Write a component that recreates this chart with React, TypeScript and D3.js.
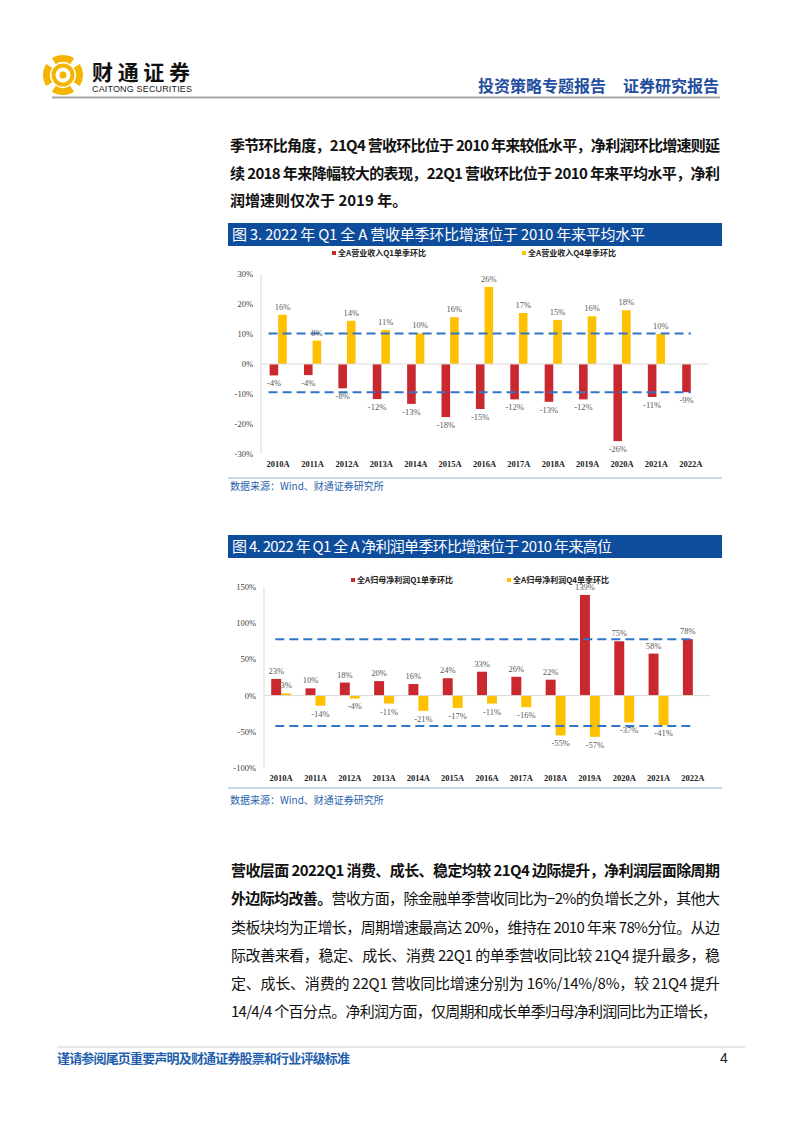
import React from "react";
import * as d3 from "d3";

const years = ["2010A","2011A","2012A","2013A","2014A","2015A","2016A","2017A","2018A","2019A","2020A","2021A","2022A"];

// Chart 3: revenue QoQ
const revQ1 = [-3.8,-3.7,-8.1,-11.7,-13.3,-17.7,-15.0,-11.8,-12.6,-11.8,-25.7,-11.0,-9.4];
const revQ1Labels = ["-4%","-4%","-8%","-12%","-13%","-18%","-15%","-12%","-13%","-12%","-26%","-11%","-9%"];
const revQ4 = [16.4,7.8,14.4,11.3,10.2,15.6,25.7,17.0,14.7,15.9,17.9,10.0];
const revQ4Labels = ["16%","8%","14%","11%","10%","16%","26%","17%","15%","16%","18%","10%"];
const revRef = [10.2,-9.4];
const revTicks = [30,20,10,0,-10,-20,-30];

// Chart 4: net profit QoQ
const npQ1 = [23,10,18,20,16,24,33,26,22,139,75,58,78];
const npQ1Labels = ["23%","10%","18%","20%","16%","24%","33%","26%","22%","139%","75%","58%","78%"];
const npQ4 = [3,-14,-4,-11,-21,-17,-11,-16,-55,-57,-37,-41];
const npQ4Labels = ["3%","-14%","-4%","-11%","-21%","-17%","-11%","-16%","-55%","-57%","-37%","-41%"];
const npRef = [78,-42];
const npTicks = [150,100,50,0,-50,-100];

const CJK = "'Noto Sans CJK SC', 'Noto Sans', sans-serif";
const SERIF = "'Liberation Serif', 'DejaVu Serif', serif";
const RED = "#C8282E";
const YEL = "#FFC000";
const DASH = "#2F75C8";
const NAVY = "#0E4C9C";

type ChartProps = {
  q1: number[]; q1L: string[]; q4: number[]; q4L: string[];
  refs: number[]; ticks: number[]; domain: [number, number];
  x0: number; x1: number; yTop: number; yBot: number; barFrac: number;
  legendY: number; legend1X: number; legend2X: number;
  legend1: string; legend2: string; xLabelY: number; refStartFrac: number;
};

function BarChart(p: ChartProps) {
  const x = d3.scaleBand<string>().domain(years).range([p.x0, p.x1]).paddingInner(0).paddingOuter(0);
  const y = d3.scaleLinear().domain(p.domain).range([p.yBot, p.yTop]);
  const bw = x.bandwidth() * p.barFrac;
  const c = (yr: string) => (x(yr) as number) + x.bandwidth() / 2;
  const refStart = (x(years[0]) as number) + x.bandwidth() * p.refStartFrac;
  const refEnd = c(years[years.length - 1]);
  return (
    <g>
      {/* legend */}
      <rect x={p.legend1X} y={p.legendY - 2} width={4} height={4} fill={RED} />
      <text x={p.legend1X + 6} y={p.legendY + 3} fontSize={8} fontWeight="bold" fontFamily={CJK} fill="#222">{p.legend1}</text>
      <rect x={p.legend2X} y={p.legendY - 2} width={4} height={4} fill={YEL} />
      <text x={p.legend2X + 6} y={p.legendY + 3} fontSize={8} fontWeight="bold" fontFamily={CJK} fill="#222">{p.legend2}</text>
      {/* y axis */}
      <line x1={p.x0} x2={p.x0} y1={y(p.domain[1])} y2={y(p.domain[0])} stroke="#D9D9D9" strokeWidth={1} />
      {p.ticks.map((t) => (
        <text key={t} x={p.x0 - 8} y={y(t) + 3} textAnchor="end" fontSize={8.5} fontFamily={SERIF} fill="#404040">{t + "%"}</text>
      ))}
      {/* bars */}
      {p.q1.map((v, i) => (
        <rect key={"a" + i} x={c(years[i]) - bw} y={Math.min(y(v), y(0))} width={bw} height={Math.abs(y(v) - y(0))} fill={RED} />
      ))}
      {p.q4.map((v, i) => (
        <rect key={"b" + i} x={c(years[i])} y={Math.min(y(v), y(0))} width={bw} height={Math.abs(y(v) - y(0))} fill={YEL} />
      ))}
      {/* zero line */}
      <line x1={p.x0} x2={p.x1} y1={y(0)} y2={y(0)} stroke="#D9D9D9" strokeWidth={1} />
      {/* reference lines */}
      {p.refs.map((r, i) => (
        <line key={"r" + i} x1={refStart} x2={refEnd} y1={y(r)} y2={y(r)} stroke={DASH} strokeWidth={2} strokeDasharray="9,5" />
      ))}
      {/* data labels */}
      {p.q1.map((v, i) => (
        <text key={"la" + i} x={c(years[i]) - bw / 2} y={v >= 0 ? y(v) - 5 : y(v) + 11} textAnchor="middle" fontSize={8.5} fontFamily={SERIF} fill="#595959">{p.q1L[i]}</text>
      ))}
      {p.q4.map((v, i) => (
        <text key={"lb" + i} x={c(years[i]) + bw / 2} y={v >= 0 ? y(v) - 5 : y(v) + 11} textAnchor="middle" fontSize={8.5} fontFamily={SERIF} fill="#595959">{p.q4L[i]}</text>
      ))}
      {/* x labels */}
      {years.map((yr) => (
        <text key={yr} x={c(yr)} y={p.xLabelY} textAnchor="middle" fontSize={8.5} fontWeight="bold" fontFamily={SERIF} fill="#222">{yr}</text>
      ))}
    </g>
  );
}

function Logo() {
  const cx = 63, cy = 75;
  const arcOuter = d3.arc<any>().innerRadius(13).outerRadius(20);
  const segs = [0, 1, 2, 3].map((k) => ({ startAngle: k * Math.PI / 2 + 0.2, endAngle: (k + 1) * Math.PI / 2 - 0.2 }));
  return (
    <g transform={`translate(${cx},${cy})`}>
      {segs.map((s, i) => (
        <path key={i} d={arcOuter(s) as string} fill="#F4B400" transform="rotate(45)" />
      ))}
      <circle r={9.5} fill="none" stroke="#F4B400" strokeWidth={4} />
      <circle r={3.5} fill="#F4B400" />
    </g>
  );
}

export default function App() {
  const p1 = [
    "季节环比角度，21Q4 营收环比位于 2010 年来较低水平，净利润环比增速则延",
    "续 2018 年来降幅较大的表现，22Q1 营收环比位于 2010 年来平均水平，净利",
    "润增速则仅次于 2019 年。",
  ];
  const p3 = [
    "类板块均为正增长，周期增速最高达 20%，维持在 2010 年来 78%分位。从边",
    "际改善来看，稳定、成长、消费 22Q1 的单季营收同比较 21Q4 提升最多，稳",
    "定、成长、消费的 22Q1 营收同比增速分别为 16%/14%/8%，较 21Q4 提升",
    "14/4/4  个百分点。净利润方面，仅周期和成长单季归母净利润同比为正增长，",
  ];
  return (
    <svg width={802} height={1133} style={{ position: "absolute", left: 0, top: 0, background: "#fff" }}>
      <rect width={802} height={1133} fill="#fff" />
      {/* header */}
      <Logo />
      <text x={92} y={80} fontSize={21} fontWeight="bold" fontFamily={CJK} fill="#111" textLength={98} lengthAdjust="spacing">财通证券</text>
      <text x={92} y={92} fontSize={9} fontFamily="'Liberation Sans', Arial, sans-serif" fill="#222" textLength={100} lengthAdjust="spacing">CAITONG SECURITIES</text>
      <text x={478} y={92} fontSize={16} fontWeight="bold" fontFamily={CJK} fill="#1F4E9C" textLength={128} lengthAdjust="spacing">投资策略专题报告</text>
      <text x={623} y={92} fontSize={16} fontWeight="bold" fontFamily={CJK} fill="#1F4E9C" textLength={96} lengthAdjust="spacing">证券研究报告</text>
      <line x1={52} x2={720} y1={97.5} y2={97.5} stroke="#A6A6A6" strokeWidth={2} />

      {/* paragraph 1 */}
      {p1.map((t, i) => (
        <text key={i} x={230} y={151 + i * 27.5} fontSize={15} fontWeight="bold" fontFamily={CJK} fill="#111"
          {...(i < 2 ? { textLength: 490, lengthAdjust: "spacing" } : {})}>{t}</text>
      ))}

      {/* chart 3 */}
      <rect x={228} y={223} width={494} height={23} fill={NAVY} />
      <text x={232} y={240} fontSize={15} fontFamily={CJK} fill="#fff" textLength={413} lengthAdjust="spacing">图 3. 2022 年 Q1 全 A 营收单季环比增速位于 2010 年来平均水平</text>
      <BarChart q1={revQ1} q1L={revQ1Labels} q4={revQ4} q4L={revQ4Labels} refs={revRef} ticks={revTicks}
        domain={[-30, 30]} x0={261} x1={708} yTop={274} yBot={454} barFrac={0.25}
        legendY={253} legend1X={332} legend2X={522} legend1="全A营业收入Q1单季环比" legend2="全A营业收入Q4单季环比"
        xLabelY={467} refStartFrac={0.22} />
      <line x1={228} x2={722} y1={478} y2={478} stroke="#8FB0DC" strokeWidth={1} />
      <text x={230} y={490} fontSize={10} fontFamily={CJK} fill="#1F5FAD">数据来源：Wind、财通证券研究所</text>

      {/* chart 4 */}
      <rect x={228} y={535} width={494} height={23} fill={NAVY} />
      <text x={232} y={552} fontSize={15} fontFamily={CJK} fill="#fff" textLength={380} lengthAdjust="spacing">图 4. 2022 年 Q1 全 A 净利润单季环比增速位于 2010 年来高位</text>
      <BarChart q1={npQ1} q1L={npQ1Labels} q4={npQ4} q4L={npQ4Labels} refs={npRef} ticks={npTicks}
        domain={[-100, 150]} x0={264} x1={710} yTop={587} yBot={768} barFrac={0.29}
        legendY={580} legend1X={351} legend2X={507} legend1="全A归母净利润Q1单季环比" legend2="全A归母净利润Q4单季环比"
        xLabelY={781} refStartFrac={0.33} />
      <line x1={228} x2={722} y1={788} y2={788} stroke="#8FB0DC" strokeWidth={1} />
      <text x={230} y={804} fontSize={10} fontFamily={CJK} fill="#1F5FAD">数据来源：Wind、财通证券研究所</text>

      {/* paragraph 3 */}
      <text x={231} y={876} fontSize={15} fontWeight="bold" fontFamily={CJK} fill="#111" textLength={489} lengthAdjust="spacing">营收层面 2022Q1 消费、成长、稳定均较 21Q4 边际提升，净利润层面除周期</text>
      <text x={231} y={904} fontSize={15} fontFamily={CJK} fill="#111" textLength={489} lengthAdjust="spacing">
        <tspan fontWeight="bold">外边际均改善。</tspan>
        <tspan>营收方面，除金融单季营收同比为−2%的负增长之外，其他大</tspan>
      </text>
      {p3.map((t, i) => (
        <text key={i} x={231} y={932.5 + i * 28.3} fontSize={15} fontFamily={CJK} fill="#111" textLength={i === 3 ? 486 : 489} lengthAdjust="spacing">{t}</text>
      ))}

      {/* footer */}
      <line x1={57} x2={745} y1={1047} y2={1047} stroke="#D0D0D0" strokeWidth={1} />
      <text x={57} y={1063} fontSize={13} fontWeight="bold" fontFamily={CJK} fill="#1F5FAD" textLength={293} lengthAdjust="spacing">谨请参阅尾页重要声明及财通证券股票和行业评级标准</text>
      <text x={724} y={1063} fontSize={14} fontFamily="'Liberation Sans', Arial, sans-serif" fill="#222" textAnchor="middle">4</text>
    </svg>
  );
}
